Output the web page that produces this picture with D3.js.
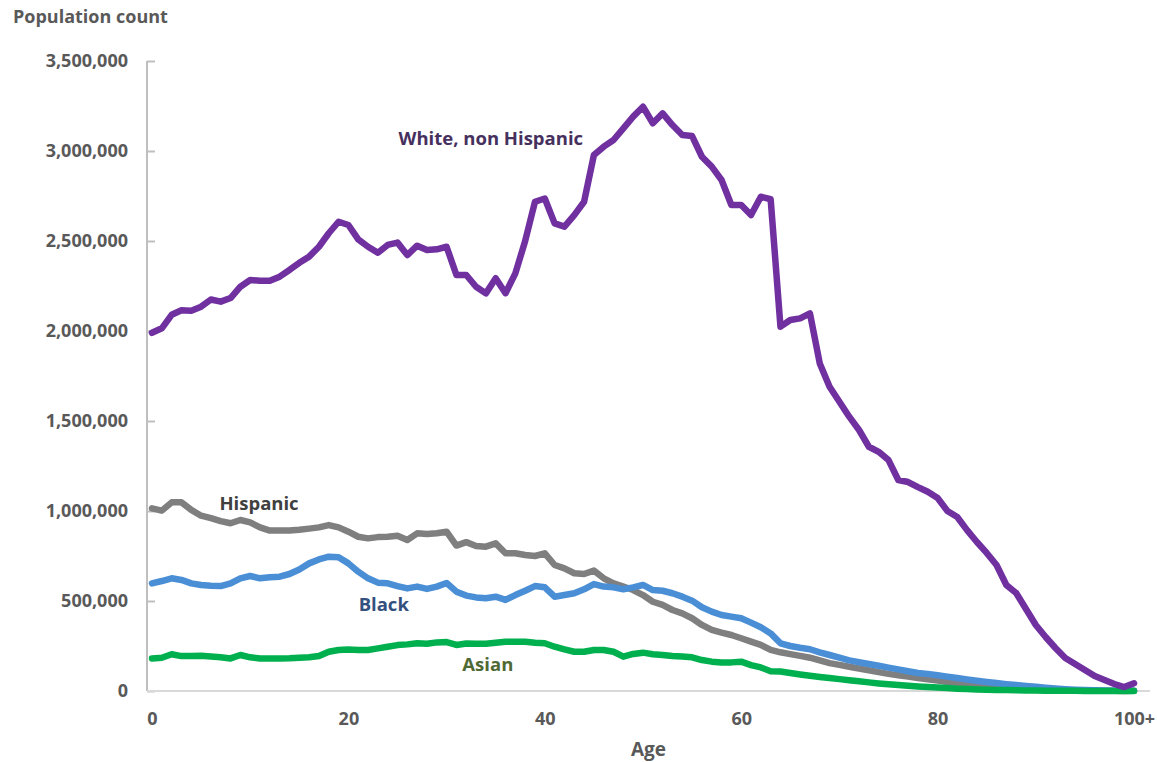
<!DOCTYPE html>
<html lang="en">
<head>
<meta charset="UTF-8"/>
<title>Population count by age and race</title>
<script src="https://d3js.org/d3.v7.min.js"></script>
<style>
    body { margin: 0; background: #ffffff; }
    svg text { font-family: "Open Sans", "DejaVu Sans", sans-serif; font-weight: bold; }
</style>
</head>
<body>
<script>
// ages 0 .. 100 (100 = "100+")
var ages = d3.range(0, 101);

var white = [1990000, 2015000, 2090000, 2115000, 2113000, 2135000, 2175000, 2163000, 2183000, 2246000,
    2283000, 2279000, 2279000, 2302000, 2339000, 2379000, 2413000, 2468000, 2543000, 2607000,
    2589000, 2509000, 2468000, 2435000, 2478000, 2491000, 2422000, 2474000, 2450000, 2454000,
    2468000, 2311000, 2311000, 2246000, 2209000, 2293000, 2210000, 2320000, 2500000, 2718000,
    2736000, 2598000, 2580000, 2644000, 2718000, 2978000, 3024000, 3061000, 3126000, 3191000,
    3246000, 3154000, 3209000, 3144000, 3089000, 3083000, 2968000, 2913000, 2839000, 2700000,
    2700000, 2644000, 2746000, 2732000, 2024000, 2061000, 2070000, 2098000, 1820000, 1690000,
    1607000, 1524000, 1450000, 1357000, 1329000, 1283000, 1172000, 1161000, 1133000, 1107000,
    1072000, 1000000, 967000, 894000, 828000, 767000, 700000, 589000, 544000, 456000,
    367000, 300000, 239000, 183000, 150000, 117000, 83000, 61000, 39000, 22000,
    43000];

var hispanic = [1015000, 1002000, 1048000, 1048000, 1006000, 974000, 960000, 944000, 932000, 950000,
    937000, 909000, 891000, 891000, 892000, 896000, 902000, 909000, 922000, 909000,
    885000, 857000, 848000, 855000, 857000, 863000, 839000, 876000, 872000, 876000,
    885000, 808000, 827000, 806000, 802000, 820000, 765000, 765000, 756000, 750000,
    765000, 700000, 681000, 654000, 650000, 669000, 626000, 598000, 580000, 561000,
    533000, 496000, 478000, 450000, 431000, 404000, 367000, 339000, 324000, 311000,
    293000, 274000, 256000, 228000, 215000, 205000, 195000, 185000, 170000, 155000,
    145000, 135000, 125000, 115000, 105000, 95000, 87000, 80000, 72000, 65000,
    58000, 50000, 44000, 38000, 33000, 28000, 24000, 20000, 16000, 13000,
    10000, 8000, 6000, 4500, 3500, 2500, 1800, 1200, 800, 500,
    800];

var black = [598000, 611000, 626000, 617000, 598000, 589000, 585000, 583000, 598000, 626000,
    639000, 626000, 632000, 635000, 650000, 675000, 709000, 731000, 746000, 743000,
    709000, 663000, 626000, 602000, 598000, 583000, 570000, 580000, 567000, 580000,
    600000, 552000, 530000, 520000, 515000, 524000, 506000, 533000, 557000, 583000,
    576000, 524000, 533000, 543000, 565000, 594000, 580000, 576000, 565000, 576000,
    589000, 561000, 557000, 543000, 524000, 502000, 465000, 441000, 422000, 413000,
    404000, 380000, 354000, 320000, 265000, 250000, 240000, 232000, 215000, 200000,
    185000, 170000, 160000, 150000, 140000, 130000, 120000, 110000, 100000, 95000,
    88000, 80000, 72000, 64000, 57000, 50000, 44000, 38000, 33000, 28000,
    23000, 18000, 14000, 10000, 7000, 5000, 3500, 2500, 1500, 1000,
    1500];

var asian = [181000, 185000, 204000, 194000, 194000, 196000, 192000, 188000, 181000, 200000,
    187000, 181000, 180000, 181000, 182000, 185000, 187000, 194000, 218000, 228000,
    231000, 228000, 228000, 237000, 246000, 255000, 259000, 265000, 262000, 270000,
    272000, 256000, 264000, 262000, 262000, 268000, 274000, 274000, 274000, 268000,
    265000, 246000, 231000, 218000, 218000, 228000, 228000, 218000, 191000, 206000,
    213000, 204000, 200000, 194000, 191000, 187000, 172000, 163000, 158000, 159000,
    163000, 144000, 131000, 110000, 108000, 100000, 92000, 85000, 78000, 72000,
    66000, 60000, 54000, 48000, 42000, 37000, 33000, 29000, 25000, 22000,
    19000, 16000, 13000, 11000, 9000, 7500, 6000, 5000, 4000, 3000,
    2500, 2000, 1500, 1000, 800, 600, 400, 300, 200, 100,
    200];

var yTicks = [0, 500000, 1000000, 1500000, 2000000, 2500000, 3000000, 3500000];
var xTicks = [0, 20, 40, 60, 80, 100];
var xTickLabels = ["0", "20", "40", "60", "80", "100+"];

// drawing order: first drawn lies underneath
var seriesNames = ["Hispanic", "Black", "Asian", "White, non Hispanic"];
var seriesValues = [hispanic, black, asian, white];
var lineColors = ["#7f7f7f", "#4a8fd6", "#00b04f", "#7030a0"];

// annotation texts, anchored in data units (age, count)
var labelTexts = ["White, non Hispanic", "Hispanic", "Black", "Asian"];
var labelAges = [34.5, 10.9, 23.6, 34.2];
var labelCounts = [3033000, 1005000, 444000, 111000];
var labelColors = ["#46305e", "#404040", "#34507e", "#4f6a35"];

var w = 1157;
var h = 762;
var plotLeft = 147, plotRight = 1150, plotTop = 61, plotBottom = 691;

var svg = d3.select("body").append("svg")
    .attr("width", w)
    .attr("height", h);

var xScale = d3.scaleLinear()
    .domain([0, 100])
    .range([152, 1134]);

var yScale = d3.scaleLinear()
    .domain([0, 3500000])
    .range([plotBottom, plotTop]);

// y axis
var yAxis = svg.append("g")
    .attr("transform", "translate(" + plotLeft + ",0)")
    .call(d3.axisLeft(yScale)
        .tickValues(yTicks)
        .tickFormat(d3.format(","))
        .tickSizeInner(-8)
        .tickSizeOuter(0)
        .tickPadding(19));
yAxis.select(".domain").remove();
yAxis.selectAll(".tick line").attr("stroke", "#bfbfbf").attr("stroke-width", 2);
yAxis.selectAll(".tick text")
    .attr("fill", "#595959")
    .style("font-size", "18px");

svg.append("line")
    .attr("x1", plotLeft).attr("x2", plotLeft)
    .attr("y1", plotTop).attr("y2", plotBottom)
    .attr("stroke", "#bfbfbf").attr("stroke-width", 2);

// x axis
var xAxis = svg.append("g")
    .attr("transform", "translate(0," + plotBottom + ")")
    .call(d3.axisBottom(xScale)
        .tickValues(xTicks)
        .tickFormat(function(d, i){ return xTickLabels[i]; })
        .tickSize(0)
        .tickPadding(21));
xAxis.select(".domain").remove();
xAxis.selectAll(".tick text")
    .attr("fill", "#595959")
    .style("font-size", "18px");

svg.append("line")
    .attr("x1", plotLeft).attr("x2", plotRight)
    .attr("y1", plotBottom).attr("y2", plotBottom)
    .attr("stroke", "#d9d9d9").attr("stroke-width", 2);

// axis titles
svg.append("text")
    .attr("x", 13)
    .attr("y", 23)
    .attr("fill", "#595959")
    .style("font-size", "18px")
    .text("Population count");

svg.append("text")
    .attr("x", (plotLeft + plotRight) / 2)
    .attr("y", 756)
    .attr("text-anchor", "middle")
    .attr("fill", "#595959")
    .style("font-size", "19px")
    .text("Age");

// lines
var line = d3.line()
    .x(function(d, i){ return xScale(ages[i]); })
    .y(function(d){ return yScale(d); });

svg.selectAll("path.series")
    .data(seriesValues)
    .enter()
    .append("path")
    .attr("class", "series")
    .attr("fill", "none")
    .attr("stroke", function(d, i){ return lineColors[i]; })
    .attr("stroke-width", 6.5)
    .attr("stroke-linejoin", "round")
    .attr("stroke-linecap", "round")
    .attr("d", line)
    .append("title")
    .text(function(d, i){ return seriesNames[i]; });

// series labels
svg.selectAll("text.label")
    .data(labelTexts)
    .enter()
    .append("text")
    .attr("class", "label")
    .attr("x", function(d, i){ return xScale(labelAges[i]); })
    .attr("y", function(d, i){ return yScale(labelCounts[i]); })
    .attr("text-anchor", "middle")
    .attr("fill", function(d, i){ return labelColors[i]; })
    .style("font-size", "18.5px")
    .text(function(d){ return d; });
</script>
</body>
</html>
